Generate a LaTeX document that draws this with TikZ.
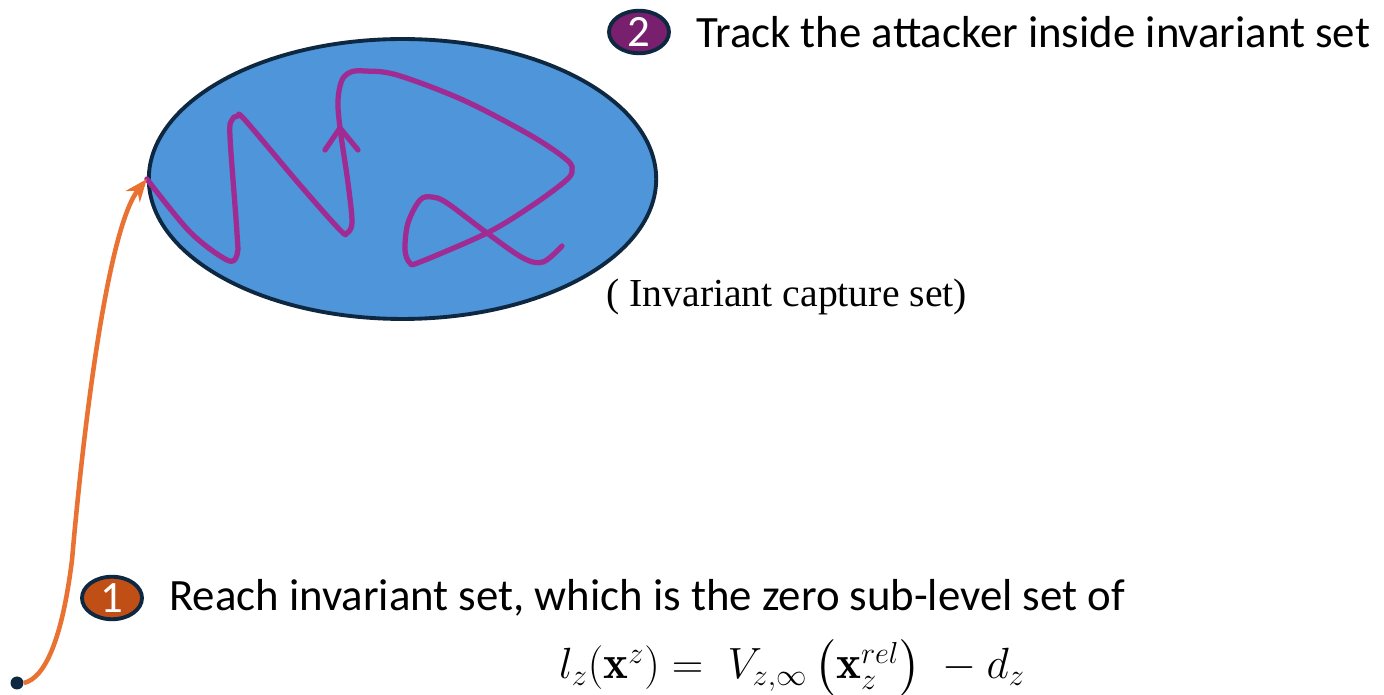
\documentclass[tikz,border=0pt]{standalone}
\usepackage{xcolor}
\usepackage{amsmath}
\usepackage{amssymb}
\usepackage{fontspec}
\usepackage{tikz}
\usetikzlibrary{positioning, shapes.geometric, arrows.meta}

\newfontfamily\stepfont{Carlito}
\newfontfamily\capfont{Liberation Serif}

\definecolor{setblue}{HTML}{4E95D9}
\definecolor{rimnavy}{HTML}{0E2841}
\definecolor{trajpurple}{HTML}{A02B93}
\definecolor{reachorange}{HTML}{E97132}
\definecolor{badgeorange}{HTML}{C04F15}
\definecolor{badgepurple}{HTML}{78206E}

\begin{document}
\begin{tikzpicture}[
  x=0.02cm, y=-0.02cm,
  every node/.style={font=\stepfont\fontsize{25.5}{30}\selectfont},
  badge/.style={ellipse, fill=#1, draw=rimnavy, line width=2.2pt,
                minimum width=1.2cm, minimum height=0.85cm, inner sep=0pt,
                text=white},
  steptext/.style={right=0.5cm of #1, anchor=west, inner sep=0pt},
  traj/.style={trajpurple, line width=3pt, line cap=round, line join=round},
]
\useasboundingbox (0,0) rectangle (1384,695);

% --- invariant capture set
\node[ellipse, fill=setblue, draw=rimnavy, line width=2.2pt,
      minimum width=10.15cm, minimum height=5.6cm] (capset) at (402.5,179) {};
\node[anchor=west, inner sep=0pt, font=\capfont\fontsize{22.6}{26}\selectfont] (caplabel)
  at (606,297) {( Invariant capture set)};

% --- attacker trajectory inside the set
\draw[traj] plot[smooth, tension=0.55] coordinates {
  (capset.west) (190,232) (227,260) (237,255) (237,233) (230,137) (232,120)
  (238,116) (245,120) (300,185) (340,230) (347,233) (352,222) (348,183)
  (340,128) (338,100) (342,80) (351,72) (365,71) (397,75) (463,100)
  (530,135) (567,160) (572,172) (563,183) (530,207) (487,233) (420,262)
  (410,263) (405,250) (408,223) (420,200) (432,197) (447,203) (487,233)
  (523,258) (543,262) (562,246)};
\draw[traj] (325,150) -- (340,128) -- (358,150);

% --- reach phase
\node[circle, fill=rimnavy, inner sep=0pt, minimum size=0.26cm] (start) at (17,683) {};
\draw[reachorange, line width=2.6pt, -{Stealth[length=0.45cm, width=0.36cm]}]
  (start.east) .. controls (45,678) and (62,640) .. (72,560)
  .. controls (86,400) and (110,225) .. (capset.west);

% --- step labels
\node[badge=badgeorange] (one) at (112,598) {1};
\node[steptext=one] (reach) {Reach invariant set, which is the zero sub-level set of};
\node[inner sep=0pt, font=\fontsize{26.8}{30}\selectfont] (lz) at (792,668)
  {$l_z(\mathbf{x}^z) =\; V_{z,\infty}\left(\mathbf{x}_z^{rel}\right)\; - d_z$};

\node[badge=badgepurple] (two) at (639,32) {2};
\node[steptext=two] (track) {Track the attacker inside invariant set};

\end{tikzpicture}
\end{document}
